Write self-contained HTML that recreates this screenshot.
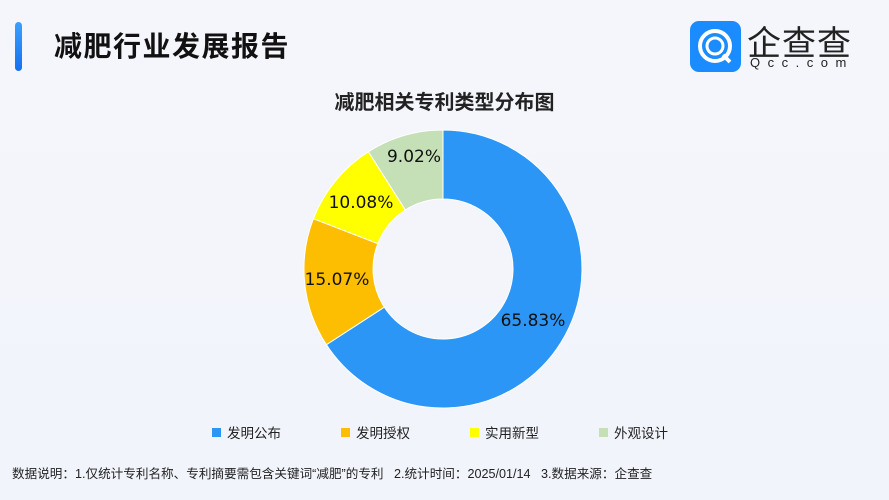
<!DOCTYPE html>
<html><head><meta charset="utf-8"><style>
body{margin:0;width:889px;height:500px;overflow:hidden;background:linear-gradient(180deg,#f5f6fb,#f1f4fb);font-family:"Liberation Sans","Noto Sans CJK SC",sans-serif;position:relative}
.a{position:absolute;white-space:nowrap}
</style></head><body>
<div class="a" style="left:15px;top:22px;width:7px;height:49px;border-radius:4px;background:linear-gradient(#3aa0ff,#1570ef)"></div>
<div class="a" style="left:54px;top:25px;font-size:28px;font-weight:bold;color:#111;letter-spacing:1.5px">减肥行业发展报告</div>
<div class="a" style="left:690px;top:21px;width:51px;height:51px;border-radius:9px;background:#1a8cff"></div>
<svg class="a" style="left:690px;top:21px" width="51" height="51"><circle cx="25" cy="25" r="15" fill="none" stroke="#fff" stroke-width="4"/><circle cx="25" cy="25" r="8" fill="none" stroke="#fff" stroke-width="3"/><path d="M33 34 L40 41" stroke="#fff" stroke-width="4"/></svg>
<div class="a" style="left:747px;top:16px;font-size:34px;color:#222;letter-spacing:1px">企查查</div>
<div class="a" style="left:750px;top:55px;font-size:13px;color:#222;letter-spacing:7.5px">Qcc.com</div>
<div class="a" style="left:0;width:889px;text-align:center;top:86px;font-size:20px;font-weight:bold;color:#222">减肥相关专利类型分布图</div>
<svg class="a" style="left:0;top:0" width="889" height="500">
<g stroke="#fff" stroke-width="1">
<path d="M443,130 A139,139 0 1 1 326.4,344.7 L384.3,307.1 A70,70 0 1 0 443,199 Z" fill="#2b96f5"/>
<path d="M326.4,344.7 A139,139 0 0 1 313.4,218.7 L377.8,243.6 A70,70 0 0 0 384.3,307.1 Z" fill="#fdbd00"/>
<path d="M313.4,218.7 A139,139 0 0 1 368.4,151.7 L405.4,209.9 A70,70 0 0 0 377.8,243.6 Z" fill="#ffff00"/>
<path d="M368.4,151.7 A139,139 0 0 1 443,130 L443,199 A70,70 0 0 0 405.4,209.9 Z" fill="#c5dfb6"/>
</g>
<g font-size="17" fill="#111" font-family="DejaVu Sans,sans-serif" text-anchor="middle">
<text x="533" y="326">65.83%</text>
<text x="337" y="285">15.07%</text>
<text x="361" y="208">10.08%</text>
<text x="414" y="162">9.02%</text>
</g>
<g font-size="13.5" fill="#222">
<rect x="212" y="428" width="9" height="9" fill="#2b96f5"/><text x="227" y="438">发明公布</text>
<rect x="341" y="428" width="9" height="9" fill="#fdbd00"/><text x="356" y="438">发明授权</text>
<rect x="470" y="428" width="9" height="9" fill="#ffff00"/><text x="485" y="438">实用新型</text>
<rect x="599" y="428" width="9" height="9" fill="#c5dfb6"/><text x="614" y="438">外观设计</text>
</g>
</svg>
<div class="a" style="left:12px;top:463px;font-size:12.6px;color:#222">数据说明：1.仅统计专利名称、专利摘要需包含关键词“减肥”的专利&nbsp;&nbsp;&nbsp;2.统计时间：2025/01/14&nbsp;&nbsp;&nbsp;3.数据来源：企查查</div>
</body></html>
